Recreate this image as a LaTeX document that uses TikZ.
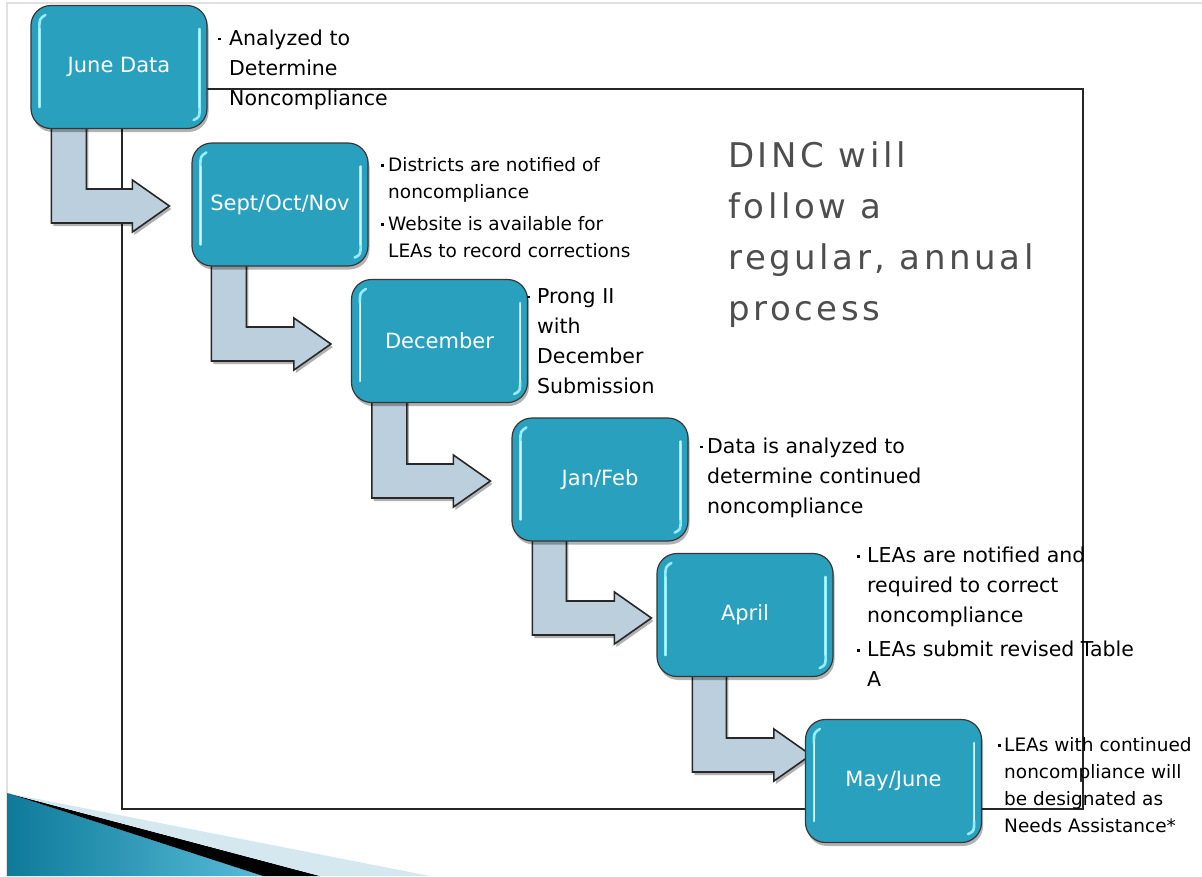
\documentclass[tikz,border=0pt]{standalone}
\usepackage{fontspec}
\setmainfont{DejaVu Sans}
\newfontfamily\dincfont{DejaVu Sans}[LetterSpace=10.5]
\usetikzlibrary{calc,shadows,backgrounds}
\definecolor{tealbox}{RGB}{42,160,191}
\definecolor{boxline}{RGB}{55,55,55}
\definecolor{arrfill}{RGB}{187,207,220}
\definecolor{arrline}{RGB}{40,40,40}
\definecolor{hlcol}{RGB}{150,236,250}
\definecolor{dinccol}{RGB}{78,78,78}
\definecolor{swteal}{RGB}{14,122,154}
\definecolor{swtealb}{RGB}{88,188,216}
\definecolor{swlight}{RGB}{213,232,240}
\definecolor{slideborder}{RGB}{224,224,224}
\newcommand\bul[1]{\llap{\rule[0.22em]{2.8pt}{2.8pt}\hspace{#1}}}
\newcommand\lns[1]{\begin{tabular}[t]{@{}l@{}}#1\end{tabular}}
\newcommand\bentarrow[6]{%
  \draw[barrow] let \p1=(#1.south west), \p2=($(#2.west)+(#5,#6)$) in
    (\x1+#3pt,\y1+6pt) -- (\x1+#3pt,\y2-17pt) -- (\x2-37pt,\y2-17pt)
    -- (\x2-37pt,\y2-26pt) -- (\x2,\y2) -- (\x2-37pt,\y2+26pt)
    -- (\x2-37pt,\y2+17pt) -- (\x1+#4pt,\y2+17pt) -- (\x1+#4pt,\y1+6pt) -- cycle;}
\tikzset{
  stepbox/.style={draw=boxline, line width=1.2pt, fill=tealbox, rounded corners=20pt,
    minimum width=176pt, minimum height=123pt, inner sep=0pt, text=white,
    font=\fontsize{21}{25}\selectfont,
    drop shadow={shadow xshift=1.5pt, shadow yshift=-3.5pt, opacity=0.3, fill=black}},
  barrow/.style={draw=arrline, line width=1.6pt, fill=arrfill, line join=miter,
    drop shadow={shadow xshift=2pt, shadow yshift=-3pt, opacity=0.3, fill=black}},
  hl/.style={draw=hlcol, line width=2.6pt, line cap=round},
  hlcore/.style={draw=white, line width=0.8pt, line cap=round, opacity=0.6},
  desc/.style={anchor=base west, inner sep=0pt, text=black, font=\fontsize{20.5}{30}\selectfont},
  descs/.style={desc, font=\fontsize{18.5}{27}\selectfont},
  framebox/.style={draw=black!85, line width=1.6pt},
}
\begin{document}
\begin{tikzpicture}[x=1pt,y=-1pt]
\useasboundingbox (0,0) rectangle (1202,876);
% step boxes
\node[stepbox] (b1) at (119,67) {June Data};
\node[stepbox] (b2) at (280,204.5) {Sept/Oct/Nov};
\node[stepbox] (b3) at (439.5,341) {December};
\node[stepbox] (b4) at (600,479.5) {Jan/Feb};
\node[stepbox] (b5) at (745,615) {April};
\node[stepbox] (b6) at (893.5,781) {May/June};
\foreach \n in {b1,b2,b3,b4,b5,b6}{
  \draw[hl] ($(\n.north west)+(9,24)$) -- ($(\n.south west)+(9,-22)$);
  \draw[hl] ($(\n.north east)+(-8,24)$) -- ($(\n.south east)+(-8,-22)$);
  \draw[hl] ($(\n.north west)+(9,24)$) .. controls ($(\n.north west)+(9,14)$) .. ($(\n.north west)+(15,10)$);
  \draw[hl] ($(\n.south east)+(-8,-22)$) .. controls ($(\n.south east)+(-8,-12)$) .. ($(\n.south east)+(-14,-9)$);
  \draw[hlcore] ($(\n.north west)+(9,24)$) -- ($(\n.south west)+(9,-22)$);
  \draw[hlcore] ($(\n.north east)+(-8,24)$) -- ($(\n.south east)+(-8,-22)$);
}
\begin{pgfonlayer}{background}
\fill[white] (0,0) rectangle (1202,876);
\draw[slideborder, line width=1.5pt] (7,876) -- (7,3) -- (1202,3);
\draw[framebox] (122,89) rectangle (1083,809);
\bentarrow{b1}{b2}{21}{56}{-22}{1.5}
\bentarrow{b2}{b3}{20}{55}{-20}{3}
\bentarrow{b3}{b4}{21}{56}{-21}{1.5}
\bentarrow{b4}{b5}{21}{55}{-5}{3}
\bentarrow{b5}{b6}{36}{70}{6}{-26}
\end{pgfonlayer}
% descriptions
\node[desc] (t1) at (229,45) {\lns{\bul{8pt}Analyzed to\\Determine\\Noncompliance}};
\node[descs] (t2) at (388,171) {\lns{\bul{4pt}Districts are notified of\\noncompliance\\[5pt]\bul{4pt}Website is available for\\LEAs to record corrections}};
\node[desc] (t3) at (537,303) {\lns{\bul{7pt}Prong II\\with\\December\\Submission}};
\node[desc] (t4) at (707,453) {\lns{\bul{4pt}Data is analyzed to\\determine continued\\noncompliance}};
\node[desc] (t5) at (867,562) {\lns{\bul{7pt}LEAs are notified and\\required to correct\\noncompliance\\[4pt]\bul{7pt}LEAs submit revised Table\\A}};
\node[descs] (t6) at (1004,751) {\lns{\bul{3pt}LEAs with continued\\noncompliance will\\be designated as\\Needs Assistance*}};
% title text
\node[anchor=base west, inner sep=0pt, text=dinccol, font=\dincfont\fontsize{34}{51}\selectfont] (dinc) at (728,167)
  {\lns{DINC will\\follow a\\regular, annual\\process}};
% bottom-left swoosh
\shade[left color=swteal, right color=swtealb] (7,793) -- (263,876) -- (7,876) -- cycle;
\fill[black] (7,793) -- (320,876) -- (263,876) -- cycle;
\fill[swlight] (7,793) -- (430,876) -- (320,876) -- cycle;
\end{tikzpicture}
\end{document}
